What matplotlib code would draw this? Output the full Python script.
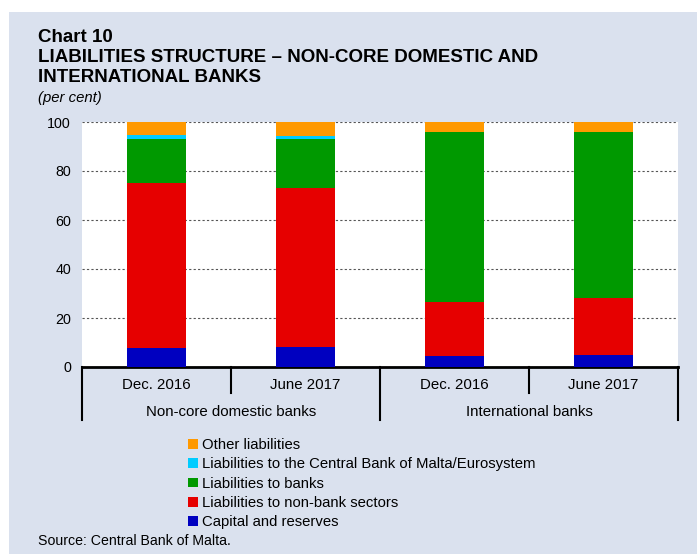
import numpy as np
import matplotlib
matplotlib.use("Agg")
import matplotlib.pyplot as plt
from matplotlib.patches import Patch, Rectangle
from matplotlib.transforms import blended_transform_factory

plt.rcParams['font.family'] = ['Liberation Sans', 'DejaVu Sans']

# data (per cent)
periods = ["Dec. 2016", "June 2017", "Dec. 2016", "June 2017"]
groups = ["Non-core domestic banks", "International banks"]
capital = [7.7, 8.2, 4.4, 5.0]
non_bank = [67.3, 64.7, 22.3, 23.2]
banks = [18.1, 20.2, 69.3, 67.7]
cbm = [1.4, 1.1, 0.0, 0.0]
other = [5.5, 5.8, 4.0, 4.1]

series = [
    ("Capital and reserves", capital, "#0000c0"),
    ("Liabilities to non-bank sectors", non_bank, "#e60000"),
    ("Liabilities to banks", banks, "#009900"),
    ("Liabilities to the Central Bank of Malta/Eurosystem", cbm, "#00ccff"),
    ("Other liabilities", other, "#ff9900"),
]

W, H = 697, 554
fig = plt.figure(figsize=(W / 100, H / 100), dpi=100, facecolor="white")
bg = "#dae1ee"
fig.patches.append(Rectangle((9 / W, 0), 1 - 9 / W, 1 - 12 / H,
                             transform=fig.transFigure, facecolor=bg,
                             edgecolor="none", zorder=-10))

ax = fig.add_axes([82 / W, (H - 367) / H, (678 - 82) / W, (367 - 122) / H])
ax.set_facecolor("white")

x = np.arange(len(periods))
bottom = np.zeros(len(periods))
for name, vals, col in series:
    ax.bar(x, vals, width=0.4, bottom=bottom, color=col, linewidth=0, zorder=3)
    bottom += np.array(vals)

ax.set_xlim(-0.5, 3.5)
ax.set_ylim(0, 100)
ax.set_yticks(np.arange(0, 101, 20))
ax.yaxis.grid(True, color="#555555", linestyle=(0, (2, 2)), linewidth=0.8, zorder=1)
ax.tick_params(axis="y", length=0, pad=8, labelsize=10.3)
ax.set_xticks([])
for s in ["left", "right", "top"]:
    ax.spines[s].set_visible(False)
ax.spines["bottom"].set_linewidth(2)
ax.spines["bottom"].set_color("black")

# category axis with group separators
trans = blended_transform_factory(ax.transData, ax.transAxes)
ah = 245.0
for xs in [0.5, 2.5]:
    ax.plot([xs, xs], [0, -26 / ah], color="black", lw=1.5, transform=trans, clip_on=False)
for xs in [-0.5, 1.5, 3.5]:
    ax.plot([xs, xs], [0, -53 / ah], color="black", lw=1.5, transform=trans, clip_on=False)
for xi, lab in zip(x, periods):
    ax.text(xi, -18 / ah, lab, ha="center", va="center", fontsize=10.8, transform=trans)
for gi, g in enumerate(groups):
    ax.text(gi * 2 + 0.5, -45 / ah, g, ha="center", va="center", fontsize=10.8, transform=trans)

# titles
fig.text(38 / W, 1 - 37 / H, "Chart 10", fontsize=13.5, fontweight="bold", va="center")
fig.text(38 / W, 1 - 58 / H, "LIABILITIES STRUCTURE \u2013 NON-CORE DOMESTIC AND",
         fontsize=13.5, fontweight="bold", va="center")
fig.text(38 / W, 1 - 78 / H, "INTERNATIONAL BANKS", fontsize=13.5, fontweight="bold", va="center")
fig.text(38 / W, 1 - 98 / H, "(per cent)", fontsize=10.7, style="italic", va="center")

handles = [Patch(facecolor=c, edgecolor="none", label=n) for n, v, c in series][::-1]
fig.legend(handles=handles, loc="upper left", bbox_to_anchor=(188 / W, 1 - 438 / H),
           frameon=False, fontsize=10.7, handlelength=0.65, handleheight=0.65,
           handletextpad=0.3, labelspacing=0.36, borderpad=0, borderaxespad=0)

fig.text(38 / W, 1 - 541 / H, "Source: Central Bank of Malta.", fontsize=10.2, va="center")

fig.savefig("out.png", dpi=100, facecolor=fig.get_facecolor())
